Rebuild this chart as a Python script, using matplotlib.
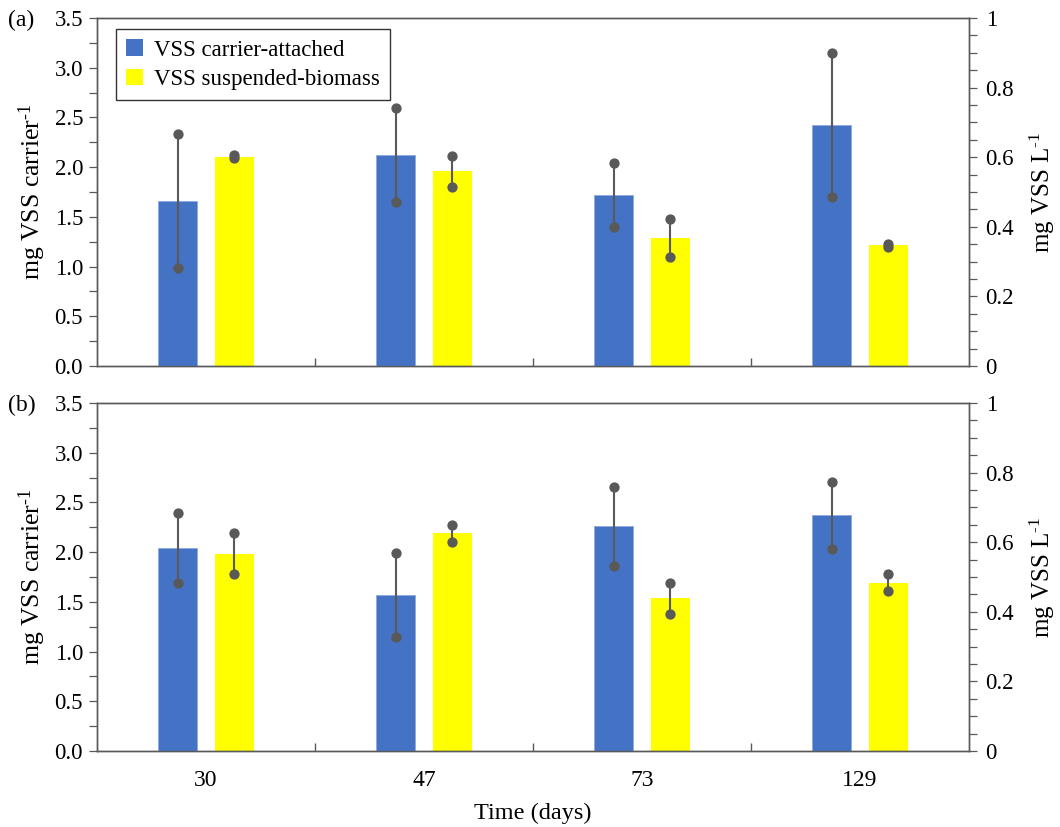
import matplotlib.pyplot as plt
import numpy as np
from matplotlib.ticker import MultipleLocator, FuncFormatter

# ----------------------------
# Dati (media +/- dev. standard)
# ----------------------------
days = ["30", "47", "73", "129"]

# pannello (a)
a_carrier = [1.66, 2.12, 1.72, 2.42]          # mg VSS carrier^-1
a_carrier_err = [0.675, 0.475, 0.325, 0.725]
a_susp = [0.601, 0.559, 0.368, 0.347]          # mg VSS L^-1
a_susp_err = [0.004, 0.045, 0.055, 0.004]

# pannello (b)
b_carrier = [2.04, 1.57, 2.26, 2.37]
b_carrier_err = [0.353, 0.426, 0.397, 0.336]
b_susp = [0.567, 0.626, 0.439, 0.484]
b_susp_err = [0.058, 0.024, 0.045, 0.025]

BLUE = "#4472C4"
YELLOW = "#FFFF00"
ERR = "#595959"
AXC = "#595959"

plt.rcParams["font.family"] = ["Liberation Serif", "DejaVu Serif"]
plt.rcParams["mathtext.fontset"] = "custom"
plt.rcParams["mathtext.rm"] = "Liberation Serif"
plt.rcParams["mathtext.it"] = "Liberation Serif:italic"
plt.rcParams["mathtext.bf"] = "Liberation Serif:bold"

fig = plt.figure(figsize=(10.6, 8.27), dpi=100)

x = np.arange(len(days))
w = 0.18
off = 0.13


def err_points(ax, xs, ys, es):
    ys = np.asarray(ys)
    es = np.asarray(es)
    ax.errorbar(xs, ys, yerr=es, fmt="none", ecolor=ERR, elinewidth=1.5,
                capsize=0, zorder=4)
    ax.scatter(np.r_[xs, xs], np.r_[ys + es, ys - es], s=55, color=ERR,
               zorder=5, linewidths=0)


def panel(rect, carrier, carrier_err, susp, susp_err, tag, show_x, legend):
    ax = fig.add_axes(rect)
    ax2 = ax.twinx()

    b1 = ax.bar(x - off, carrier, width=w, color=BLUE, edgecolor="#8FAADC",
                linewidth=0.6, zorder=2, label="VSS carrier-attached")
    err_points(ax, x - off, carrier, carrier_err)

    b2 = ax2.bar(x + off, susp, width=w, color=YELLOW, zorder=2,
                 label="VSS suspended-biomass")
    err_points(ax2, x + off, susp, susp_err)

    ax.set_xlim(-0.5, len(days) - 0.5)
    ax.set_ylim(0, 3.5)
    ax2.set_ylim(0, 1)

    ax.yaxis.set_major_locator(MultipleLocator(0.5))
    ax.yaxis.set_minor_locator(MultipleLocator(0.25))
    ax.yaxis.set_major_formatter(FuncFormatter(lambda v, p: f"{v:.1f}"))
    ax2.yaxis.set_major_locator(MultipleLocator(0.2))
    ax2.yaxis.set_minor_locator(MultipleLocator(0.05))
    ax2.yaxis.set_major_formatter(FuncFormatter(lambda v, p: f"{v:g}"))

    # etichette al centro dei gruppi, tacche ai bordi
    ax.set_xticks(x)
    ax.set_xticks(np.arange(0.5, len(days) - 0.5), minor=True)
    ax.tick_params(axis="x", which="major", length=0, pad=14, labelsize=17)
    ax.tick_params(axis="x", which="minor", direction="in", length=6,
                   width=1.0, color=AXC)
    if show_x:
        ax.set_xticklabels(days)
        ax.set_xlabel("Time (days)", fontsize=17.5, labelpad=8)
    else:
        ax.set_xticklabels([])

    for a in (ax, ax2):
        a.tick_params(axis="y", which="both", direction="out", length=6,
                      width=0.9, color=AXC, labelsize=16.5, pad=4)
        for s in a.spines.values():
            s.set_color(AXC)
            s.set_linewidth(1.0)
    ax2.tick_params(axis="y", which="both", pad=6)

    ax.set_ylabel(r"mg VSS carrier$^{\text{-1}}$", fontsize=18.5, labelpad=5)
    ax2.set_ylabel(r"mg VSS L$^{\text{-1}}$", fontsize=18, labelpad=10)

    ax.set_zorder(ax2.get_zorder() + 1)
    ax.patch.set_visible(False)

    fig.text(0.008, rect[1] + rect[3] - 0.003, tag, fontsize=17, va="center")

    if legend:
        leg = ax.legend(handles=[b1, b2], loc="upper left",
                        bbox_to_anchor=(0.022, 0.968), borderaxespad=0,
                        fontsize=16.5, frameon=True, fancybox=False,
                        edgecolor="black", handlelength=0.7,
                        handleheight=0.7, handletextpad=0.5, borderpad=0.45,
                        labelspacing=0.35)
        leg.get_frame().set_linewidth(1.0)
        for h in leg.legend_handles:
            h.set_edgecolor("none")
    return ax, ax2


L, W, H = 0.0915, 0.8226, 0.4208
panel([L, 0.5574, W, H], a_carrier, a_carrier_err, a_susp, a_susp_err,
      "(a)", show_x=False, legend=True)
panel([L, 0.0919, W, H], b_carrier, b_carrier_err, b_susp, b_susp_err,
      "(b)", show_x=True, legend=False)

fig.savefig("out.png", dpi=100)
